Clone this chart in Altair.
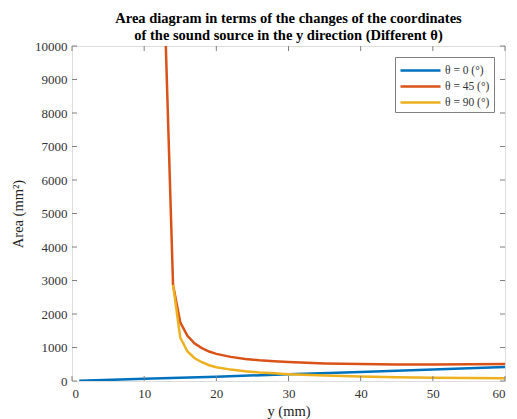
import altair as alt
import pandas as pd

# ---- data ----
x_blue = [1, 10, 20, 30, 40, 50, 60]
a_blue = [5, 65, 130, 200, 270, 340, 415]

x_orange = [13, 14, 15, 16, 17, 18, 19, 20, 22, 24, 26, 28, 30, 35, 40, 45, 50, 55, 60]
a_orange = [10000, 2870, 1750, 1350, 1120, 980, 880, 810, 720, 660, 620, 590, 565, 525, 505, 495, 495, 500, 510]

x_yellow = [14, 15, 16, 17, 18, 19, 20, 22, 24, 26, 28, 30, 35, 40, 45, 50, 55, 60]
a_yellow = [2870, 1300, 880, 680, 560, 470, 410, 340, 290, 255, 230, 205, 165, 135, 115, 100, 90, 85]

series_names = ["θ = 0 (°)", "θ = 45 (°)", "θ = 90 (°)"]
series_colors = ["#0072BD", "#D95319", "#EDB120"]

x_ticks = [0, 10, 20, 30, 40, 50, 60]
y_ticks = [0, 1000, 2000, 3000, 4000, 5000, 6000, 7000, 8000, 9000, 10000]

rows = []
for name, xs_, ys_ in zip(series_names, [x_blue, x_orange, x_yellow], [a_blue, a_orange, a_yellow]):
    for i, (xv, yv) in enumerate(zip(xs_, ys_)):
        rows.append({"y_mm": xv, "area": yv, "series": name, "order": i})
df = pd.DataFrame(rows)

W, H = 433, 335
FONT = "Liberation Serif"
GRAY = "#808080"
LBL = "#333333"

xs = alt.Scale(domain=[0, 60], nice=False, zero=False)
ys = alt.Scale(domain=[0, 10000], nice=False)

axis_common = dict(grid=False, domain=False, ticks=False, labelOverlap=False,
                   labelFont=FONT, labelFontSize=13, labelColor=LBL,
                   titleFont=FONT, titleFontSize=14.5, titleColor="#222222",
                   titleFontWeight="normal", format="d")
x_axis = alt.Axis(values=x_ticks, labelPadding=6, titlePadding=4, **axis_common)
y_axis = alt.Axis(values=y_ticks, labelPadding=5, titlePadding=9, **axis_common)

lines = alt.Chart(df).mark_line(strokeWidth=2.5, clip=True).encode(
    x=alt.X("y_mm:Q", scale=xs, title="y (mm)", axis=x_axis),
    y=alt.Y("area:Q", scale=ys, title="Area (mm²)", axis=y_axis),
    color=alt.Color("series:N", sort=series_names,
                    scale=alt.Scale(domain=series_names, range=series_colors),
                    legend=alt.Legend(title=None, orient="top-right", offset=11,
                                      symbolType="M-1,0H4", symbolSize=256,
                                      symbolStrokeWidth=2.5, labelFont=FONT,
                                      labelFontSize=11.5, labelColor=LBL,
                                      strokeColor=GRAY, fillColor="white",
                                      padding=4, rowPadding=1, labelOffset=27)),
    detail="series:N",
    order="order:Q",
)

xt = pd.DataFrame({"t": x_ticks})
yt = pd.DataFrame({"t": y_ticks})

xtick_bottom = alt.Chart(xt).mark_rule(color=GRAY, strokeWidth=1).encode(
    x=alt.X("t:Q", scale=xs, title="y (mm)", axis=x_axis), y=alt.value(H), y2=alt.value(H - 5))
xtick_top = alt.Chart(xt).mark_rule(color=GRAY, strokeWidth=1).encode(
    x=alt.X("t:Q", scale=xs, title="y (mm)", axis=x_axis), y=alt.value(0), y2=alt.value(5))
ytick_left = alt.Chart(yt).mark_rule(color=GRAY, strokeWidth=1).encode(
    y=alt.Y("t:Q", scale=ys, title="Area (mm²)", axis=y_axis), x=alt.value(0), x2=alt.value(5))
ytick_right = alt.Chart(yt).mark_rule(color=GRAY, strokeWidth=1).encode(
    y=alt.Y("t:Q", scale=ys, title="Area (mm²)", axis=y_axis), x=alt.value(W), x2=alt.value(W - 5))

chart = alt.layer(lines, xtick_bottom, xtick_top, ytick_left, ytick_right).properties(
    width=W, height=H,
    autosize=alt.AutoSizeParams(type="none"),
    padding={"left": 64, "top": 38, "right": 4, "bottom": 38},
    title=alt.Title(["Area diagram in terms of the changes of the coordinates",
                     "of the sound source in the y direction (Different θ)"],
                    font=FONT, fontSize=14.5, fontWeight="bold", color="#000000",
                    anchor="middle", frame="group", offset=-3, lineHeight=17),
).configure_view(stroke=GRAY, strokeWidth=1).configure_legend(
    labelFont=FONT, labelFontSize=11.5, labelColor=LBL
).configure(background="white")

chart.save("out.html", embed_options={"renderer": "svg", "actions": False})
